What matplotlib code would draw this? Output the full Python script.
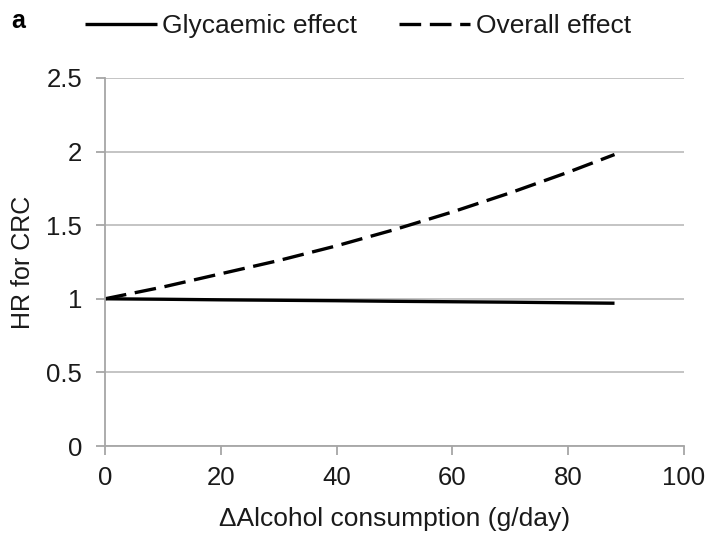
import matplotlib
matplotlib.use("Agg")
import matplotlib.pyplot as plt

plt.rcParams['font.family'] = ['Liberation Sans', 'DejaVu Sans']

# values
alcohol = [0, 10, 20, 30, 40, 50, 60, 70, 80, 88]
glycaemic = [1.00, 0.997, 0.993, 0.990, 0.987, 0.983, 0.980, 0.977, 0.973, 0.970]
overall = [1.00, 1.08, 1.17, 1.26, 1.36, 1.47, 1.59, 1.72, 1.86, 1.98]
xticks = [0, 20, 40, 60, 80, 100]
yticks = [0, 0.5, 1, 1.5, 2, 2.5]
ytick_labels = ['0', '0.5', '1', '1.5', '2', '2.5']

grey = '#a6a6a6'

fig = plt.figure(figsize=(7.05, 5.35), dpi=100)
ax = fig.add_axes([105 / 705, 1 - 446 / 535, 579 / 705, 368 / 535])

ax.plot(alcohol, glycaemic, color='black', lw=2.4, solid_capstyle='butt',
        label='Glycaemic effect')
ax.plot(alcohol, overall, color='black', lw=2.4, dashes=(6.5, 2.6),
        label='Overall effect')

ax.set_xlim(0, 100)
ax.set_ylim(0, 2.5)
ax.set_xticks(xticks)
ax.set_yticks(yticks)
ax.set_yticklabels(ytick_labels)
ax.grid(axis='y', color='#bfbfbf', lw=1.3)
ax.set_axisbelow(True)
for s in ['top', 'right']:
    ax.spines[s].set_visible(False)
for s in ['left', 'bottom']:
    ax.spines[s].set_color(grey)
    ax.spines[s].set_linewidth(1.3)
ax.tick_params(axis='both', colors=grey, labelcolor='#1a1a1a', labelsize=18.5,
               length=6.5, width=1.3)
ax.tick_params(axis='x', pad=8)
ax.tick_params(axis='y', pad=10)

ax.set_xlabel('\u0394Alcohol consumption (g/day)', fontsize=19, labelpad=12,
              color='#1a1a1a')
ax.set_ylabel('HR for CRC', fontsize=18, labelpad=8, color='#1a1a1a')

fig.legend(loc='center', bbox_to_anchor=(358 / 705, 1 - 26 / 535), ncol=2,
           frameon=False, fontsize=19, handlelength=2.7, handletextpad=0.2,
           columnspacing=1.6, labelcolor='#1a1a1a')
fig.text(11 / 705, 1 - 21 / 535, 'a', fontsize=18, fontweight='bold', va='center')

fig.savefig('out.png', dpi=100)
